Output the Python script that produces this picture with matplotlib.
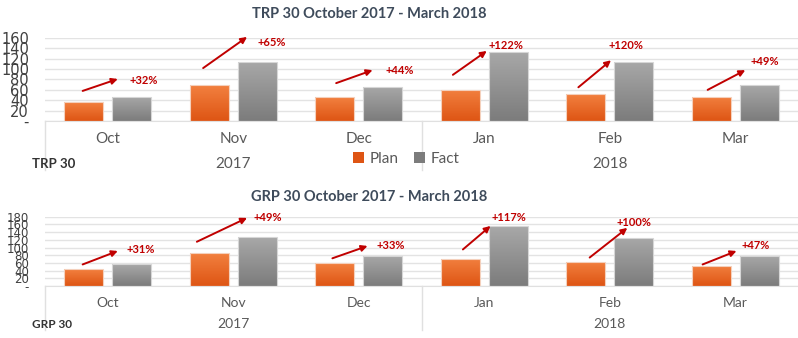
import numpy as np
import matplotlib
matplotlib.use("Agg")
import matplotlib.pyplot as plt
from matplotlib.transforms import blended_transform_factory

# data
months = ["Oct", "Nov", "Dec", "Jan", "Feb", "Mar"]
years = ["2017", "2018"]
year_sizes = [3, 3]

trp_plan = [36, 69, 46, 60, 52, 47]
trp_fact = [47, 114, 66, 133, 114, 70]
trp_growth = ["+32%", "+65%", "+44%", "+122%", "+120%", "+49%"]

grp_plan = [43, 85, 59, 71, 63, 53]
grp_fact = [56, 127, 78, 155, 126, 78]
grp_growth = ["+31%", "+49%", "+33%", "+117%", "+100%", "+47%"]

# arrow / label placement (x offset from category centre, y in data units)
trp_arrows = [((-0.20, 58), (0.08, 81), (0.17, 79)),
              ((-0.24, 102), (0.11, 162), (0.19, 152)),
              ((-0.18, 73), (0.11, 98), (0.21, 98)),
              ((-0.25, 89), (0.02, 135), (0.03, 146)),
              ((-0.25, 65), (0.01, 117), (-0.01, 146)),
              ((-0.22, 60), (0.08, 98), (0.12, 114))]
grp_arrows = [((-0.20, 56), (0.08, 91), (0.15, 96)),
              ((-0.29, 115), (0.11, 177), (0.16, 177)),
              ((-0.21, 72), (0.07, 104), (0.14, 106)),
              ((-0.17, 95), (0.05, 156), (0.06, 177)),
              ((-0.16, 74), (0.14, 151), (0.05, 165)),
              ((-0.26, 56), (0.01, 91), (0.05, 106))]

ORANGE = ("#f2803f", "#de5514")
GREY = ("#a8a8a8", "#7c7c7c")
RED = "#c00000"
TEXT = "#595959"
TITLE = "#3e4b5b"
SANS = ["Lato", "DejaVu Sans"]
NARROW = ["Liberation Sans Narrow", "DejaVu Sans"]


def gradient_bars(ax, bars, colors):
    grad = np.linspace(0, 1, 64).reshape(-1, 1)
    cmap = matplotlib.colors.LinearSegmentedColormap.from_list("g", [colors[1], colors[0]])
    for b in bars:
        x0, y0 = b.get_x(), b.get_y()
        im = ax.imshow(grad, extent=[x0, x0 + b.get_width(), y0, y0 + b.get_height()],
                       origin="lower", aspect="auto", cmap=cmap, zorder=2)
        im.set_clip_path(b)
        b.set_facecolor("none")


def draw_panel(ax, plan, fact, growth, arrows, ymax, title, name,
               fs, tick_fs, sep_len, year_y, legend):
    x = np.arange(len(months))
    w = 0.31
    b1 = ax.bar(x - 0.19, plan, w, edgecolor="#f4d0bc", linewidth=0.8, zorder=3)
    b2 = ax.bar(x + 0.19, fact, w, edgecolor="#d6d6d6", linewidth=0.8, zorder=3)
    gradient_bars(ax, b1, ORANGE)
    gradient_bars(ax, b2, GREY)

    ax.set_xlim(-0.5, len(months) - 0.5)
    ax.set_ylim(0, ymax)
    ticks = np.arange(0, ymax + 1, 20)
    ax.set_yticks(ticks)
    ax.set_yticklabels(["-" if t == 0 else str(t) for t in ticks],
                       fontsize=tick_fs, color="#404040", family=NARROW)
    ax.tick_params(axis="y", length=0, pad=11.5)
    ax.set_xticks(x)
    ax.set_xticklabels(months, fontsize=fs, color=TEXT, family=SANS)
    ax.tick_params(axis="x", length=0, pad=8)
    ax.grid(axis="y", color="#e3e3e3", linewidth=1.0, zorder=0)
    ax.set_axisbelow(True)
    for s in ["top", "right", "left"]:
        ax.spines[s].set_visible(False)
    ax.spines["bottom"].set_color("#e0e0e0")

    # multi-level category axis
    tr = blended_transform_factory(ax.transData, ax.transAxes)
    edges = np.concatenate([[0], np.cumsum(year_sizes)]) - 0.5
    for e in edges[:-1]:
        ax.plot([e, e], [0, -sep_len], color="#e0e0e0", lw=1, transform=tr, clip_on=False)
    for yr, a, b in zip(years, edges[:-1], edges[1:]):
        ax.text((a + b) / 2, year_y, yr, transform=tr, ha="center", va="center",
                fontsize=fs, color=TEXT, family=SANS)
    ax.text(-0.017, year_y, name, transform=ax.transAxes, ha="left", va="center",
            fontsize=fs - 1.5, fontweight="bold", color="#333333", family=SANS)

    for i, (s, e, t) in enumerate(arrows):
        ax.annotate("", xy=(i + e[0], e[1]), xytext=(i + s[0], s[1]),
                    arrowprops=dict(arrowstyle="-|>", color=RED, lw=1.4,
                                    mutation_scale=9, shrinkA=0, shrinkB=0),
                    annotation_clip=False, zorder=5)
        ax.text(i + t[0], t[1], growth[i], color=RED, fontsize=8, fontweight="bold",
                ha="left", va="center", family=SANS, zorder=5, clip_on=False)

    ax.text(0.43, 1.29, title, transform=ax.transAxes, ha="center", va="center",
            fontsize=10.5, fontweight="bold", color=TITLE, family=SANS)

    if legend:
        ax.legend([b1[0], b2[0]], ["Plan", "Fact"], loc="center", bbox_to_anchor=(0.48, -0.46),
                  ncol=2, frameon=False, handlelength=0.7, handleheight=0.7,
                  columnspacing=1.0, handletextpad=0.4, labelcolor=TEXT,
                  prop={"family": SANS, "size": fs})
        leg = ax.get_legend()
        for h, c in zip(leg.legend_handles, [ORANGE[1], GREY[1]]):
            h.set_facecolor(c)
            h.set_edgecolor("none")


fig = plt.figure(figsize=(7.98, 3.38), dpi=100)
ax1 = fig.add_axes([0.0564, 0.642, 0.9436, 0.2456])
ax2 = fig.add_axes([0.0564, 0.1538, 0.9436, 0.205])

draw_panel(ax1, trp_plan, trp_fact, trp_growth, trp_arrows, 160,
           "TRP 30 October 2017 - March 2018", "TRP 30", 11, 10.5, 0.59, -0.52, True)
draw_panel(ax2, grp_plan, grp_fact, grp_growth, grp_arrows, 180,
           "GRP 30 October 2017 - March 2018", "GRP 30", 10, 8.5, 0.63, -0.55, False)

fig.savefig("out.png", dpi=100, facecolor="white")
